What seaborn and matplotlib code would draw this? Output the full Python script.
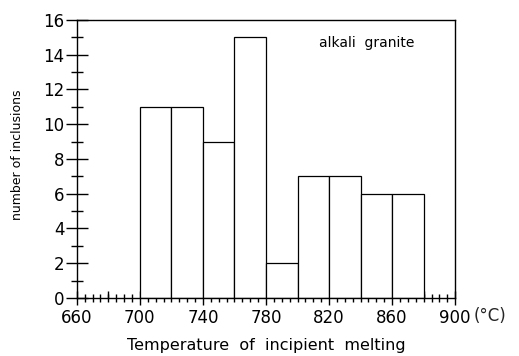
import numpy as np
import pandas as pd
import matplotlib
matplotlib.use("Agg")
import matplotlib.pyplot as plt
import seaborn as sns
from matplotlib.ticker import MultipleLocator, FixedLocator, NullFormatter

bin_edges = [700, 720, 740, 760, 780, 800, 820, 840, 860, 880]
counts = [11, 11, 9, 15, 2, 7, 7, 6, 6]
x_ticks = [660, 700, 740, 780, 820, 860, 900]
x_ticklabels = ["660", "700", "740", "780", "820", "860", "900"]
y_ticks = [0, 2, 4, 6, 8, 10, 12, 14, 16]
x_mid_ticks = [680, 720, 760, 800, 840, 880]

sns.set_style("ticks")
plt.rcParams['font.family'] = ['DejaVu Sans']

centers = [(a + b) / 2 for a, b in zip(bin_edges[:-1], bin_edges[1:])]
df = pd.DataFrame({"temp": centers, "n": counts})

fig = plt.figure(figsize=(5.19, 3.56), dpi=100)
ax = fig.add_axes([0.148, 0.163, 0.729, 0.781])

sns.histplot(data=df, x="temp", weights="n", bins=bin_edges, ax=ax,
             color="white", edgecolor="black", linewidth=0.9, alpha=1)

ax.set_xlim(660, 900)
ax.set_ylim(0, 16)
ax.set_xticks(x_ticks)
ax.set_xticklabels(x_ticklabels)
ax.set_yticks(y_ticks)
ax.xaxis.set_minor_locator(MultipleLocator(5))
ax.yaxis.set_minor_locator(MultipleLocator(1))
ax.tick_params(axis="y", which="major", direction="inout", length=16, width=1.0,
               colors="black", labelsize=12, pad=1)
ax.tick_params(axis="y", which="minor", direction="inout", length=9, width=1.0, colors="black")
ax.tick_params(axis="x", which="major", direction="inout", length=10, width=1.0,
               colors="black", labelsize=12, pad=3)
ax.tick_params(axis="x", which="minor", direction="inout", length=6, width=1.0, colors="black")
for s in ax.spines.values():
    s.set_linewidth(1.0)
    s.set_color("black")

sec = ax.secondary_xaxis("bottom")
sec.set_xticks(x_mid_ticks)
sec.xaxis.set_major_formatter(NullFormatter())
sec.tick_params(axis="x", direction="in", length=5, width=1.0, colors="black")
sec.spines["bottom"].set_visible(False)

ax.set_ylabel("number of inclusions", fontsize=9, color="black")
ax.yaxis.set_label_coords(-0.14, 0.514)
ax.set_xlabel("Temperature  of  incipient  melting", fontsize=11.5, labelpad=8, color="black")
ax.text(1.05, -0.064, "(°C)", transform=ax.transAxes, fontsize=12, va="center", ha="left")
ax.text(844, 14.7, "alkali  granite", fontsize=10, ha="center", va="center", color="black")

fig.savefig("out.png", dpi=100)
